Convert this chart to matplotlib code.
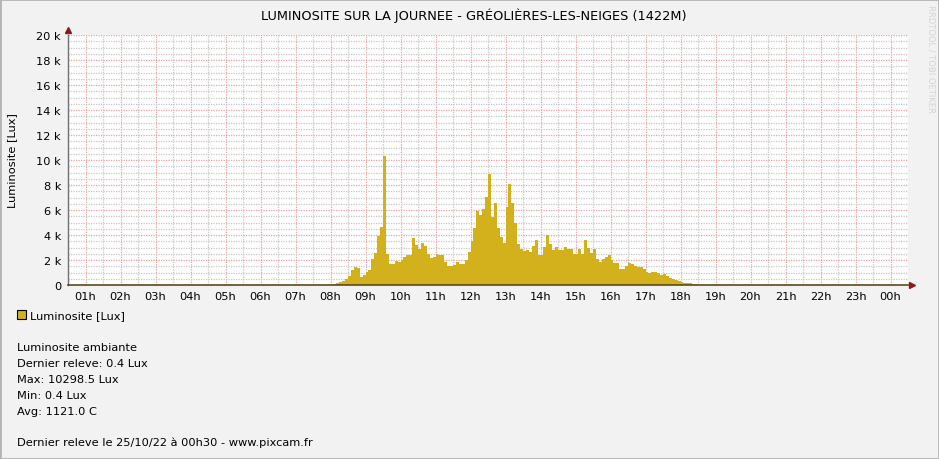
import numpy as np
import matplotlib
matplotlib.use("Agg")
import matplotlib.pyplot as plt
from matplotlib.patches import Rectangle
from matplotlib.ticker import FuncFormatter, MultipleLocator

# 5-minute readings (Lux), starting at 08h00
start_hour = 8.0
step_h = 1 / 12
lux = [
    30, 100, 160, 240, 320, 480, 720, 1200, 1470, 1400, 670, 830,            # 08h
    1070, 1200, 2080, 2560, 3920, 4670, 10298, 2480, 1680, 1680, 1920, 1840,  # 09h
    2000, 2240, 2400, 2400, 3760, 3200, 2880, 3360, 3120, 2480, 2160, 2240,   # 10h
    2480, 2400, 2400, 1840, 1550, 1550, 1600, 1840, 1680, 1680, 2000, 2640,   # 11h
    3520, 4560, 5950, 5600, 6080, 7040, 8880, 5440, 6560, 4560, 3840, 3360,   # 12h
    6240, 8080, 6560, 4960, 3280, 2880, 2720, 2800, 2640, 3120, 3600, 2400,   # 13h
    2400, 3040, 4000, 3280, 2800, 3040, 2800, 2800, 3040, 2880, 2880, 2480,   # 14h
    2480, 2880, 2480, 3600, 2960, 2560, 2880, 2080, 1840, 2080, 2240, 2400,   # 15h
    2000, 1760, 1760, 1280, 1280, 1520, 1760, 1680, 1520, 1440, 1440, 1280,   # 16h
    1040, 960, 1040, 1040, 960, 800, 880, 720, 560, 480, 400, 320,            # 17h
    240, 160, 160, 160, 80, 80, 30, 10,                                       # 18h
]
hour_labels = ["01h", "02h", "03h", "04h", "05h", "06h", "07h", "08h", "09h", "10h",
               "11h", "12h", "13h", "14h", "15h", "16h", "17h", "18h", "19h", "20h",
               "21h", "22h", "23h", "00h"]
title = "LUMINOSITE SUR LA JOURNEE - GRÉOLIÈRES-LES-NEIGES (1422M)"
legend_label = "Luminosite [Lux]"
info_lines = ["Luminosite ambiante", "Dernier releve: 0.4 Lux", "Max: 10298.5 Lux",
              "Min: 0.4 Lux", "Avg: 1121.0 C"]
footer = "Dernier releve le 25/10/22 à 00h30 - www.pixcam.fr"

W, H = 939, 460
bar_color = "#D2B11C"
plt.rcParams['font.family'] = ['DejaVu Sans']
fs = 8.2

fig = plt.figure(figsize=(W / 100, H / 100), dpi=100, facecolor="#F2F2F2")
x0, x1, y0, y1 = 68, 908, 36, 286
ax = fig.add_axes([x0 / W, 1 - y1 / H, (x1 - x0) / W, (y1 - y0) / H])
ax.set_facecolor("white")

# data as stepped area
t = start_hour + np.arange(len(lux) + 1) * step_h
vals = np.array(lux + [lux[-1]], dtype=float)
ax.fill_between(t, 0, vals, step="post", color=bar_color, linewidth=0, zorder=2)

ax.set_xlim(0.5, 24.5)
ax.set_ylim(0, 20000)

# grid
ax.xaxis.set_major_locator(MultipleLocator(1))
ax.xaxis.set_minor_locator(MultipleLocator(0.5))
ax.yaxis.set_major_locator(MultipleLocator(2000))
ax.yaxis.set_minor_locator(MultipleLocator(500))
ax.grid(which="minor", color="#c8c8c8", linestyle=(0, (1, 1)), linewidth=0.9, zorder=0)
ax.grid(which="major", color="#eea0a0", linestyle=(0, (1, 1)), linewidth=0.9, zorder=1)
ax.set_axisbelow(True)

ax.set_xticks(np.arange(1, 25))
ax.set_xticklabels(hour_labels, fontsize=fs)
ax.yaxis.set_major_formatter(FuncFormatter(lambda v, p: "0" if v == 0 else f"{int(v / 1000)} k"))
ax.tick_params(axis="both", which="both", length=0, labelsize=fs, pad=5)
ax.tick_params(axis="x", pad=4)

for s in ["top", "right"]:
    ax.spines[s].set_visible(False)
ax.spines["left"].set_color("#707070")
ax.spines["left"].set_linewidth(1)
ax.spines["bottom"].set_color("#5b4a1c")
ax.spines["bottom"].set_linewidth(1.2)
ax.spines["bottom"].set_zorder(3)

# axis arrows
ax.plot([0.5], [20400], marker="^", color="#8b1a1a", markersize=4, clip_on=False, zorder=4)
ax.plot([24.62], [0], marker=">", color="#8b1a1a", markersize=4, clip_on=False, zorder=4)

fig.text(12 / W, 1 - 161 / H, "Luminosite [Lux]", rotation=90, ha="center", va="center", fontsize=fs)
fig.text(474 / W, 1 - 16 / H, title, ha="center", va="center", fontsize=9.3)
fig.text(931 / W, 1 - 5 / H, "RRDTOOL / TOBI OETIKER", rotation=270, ha="center", va="top",
         fontsize=6, color="#d4d4d4")

# legend
fig.patches.append(Rectangle((17 / W, 1 - 320 / H), 9 / W, 9 / H, transform=fig.transFigure,
                             facecolor=bar_color, edgecolor="black", linewidth=0.8))
fig.text(30 / W, 1 - 316 / H, legend_label, ha="left", va="center", fontsize=fs)
for i, line in enumerate(info_lines):
    fig.text(17 / W, 1 - (348 + 16 * i) / H, line, ha="left", va="center", fontsize=fs)
fig.text(17 / W, 1 - 443 / H, footer, ha="left", va="center", fontsize=fs)

# frame
fig.patches.append(Rectangle((0, 0), 1, 1, transform=fig.transFigure, fill=False,
                             edgecolor="#b4b4b4", linewidth=2))

fig.savefig("out.png", dpi=100, facecolor=fig.get_facecolor())
